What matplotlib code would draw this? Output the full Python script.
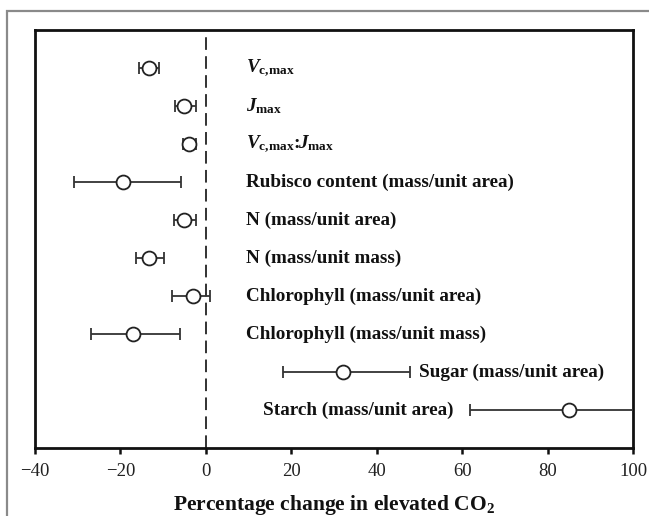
import matplotlib
matplotlib.use("Agg")
import matplotlib.pyplot as plt
from matplotlib.patches import Rectangle

plt.rcParams['font.family'] = ['Liberation Serif', 'DejaVu Serif']
plt.rcParams['mathtext.fontset'] = 'custom'
plt.rcParams['mathtext.rm'] = 'Liberation Serif:bold'
plt.rcParams['mathtext.bf'] = 'Liberation Serif:bold'
plt.rcParams['mathtext.it'] = 'Liberation Serif:bold:italic'

labels = [r'$\mathit{V}_{\mathbf{c,\!max}}$',
          r'$\mathit{J}_{\mathbf{max}}$',
          r'$\mathit{V}_{\mathbf{c,\!max}}\!\mathbf{:}\!\!\mathit{J}_{\mathbf{max}}$',
          'Rubisco content (mass/unit area)',
          'N (mass/unit area)',
          'N (mass/unit mass)',
          'Chlorophyll (mass/unit area)',
          'Chlorophyll (mass/unit mass)',
          'Sugar (mass/unit area)',
          'Starch (mass/unit area)']
means = [-13.25, -5.1, -3.9, -19.3, -5.1, -13.25, -2.95, -17.0, 32.2, 84.9]
lower = [-15.6, -7.2, -5.4, -30.8, -7.4, -16.4, -7.9, -26.9, 18.0, 61.8]
upper = [-10.9, -2.4, -2.4, -5.9, -2.3, -9.8, 1.0, -6.1, 47.8, 108.0]
label_x = [9.5, 9.5, 9.5, 9.5, 9.5, 9.5, 9.5, 9.5, 50.0, 58.0]
label_ha = ['left'] * 9 + ['right']
xticks = [-40, -20, 0, 20, 40, 60, 80, 100]
xticklabels = ['\u221240', '\u221220', '0', '20', '40', '60', '80', '100']

W, H = 649, 516
fig = plt.figure(figsize=(W / 100, H / 100), dpi=100)
fig.patches.append(Rectangle((7 / W, 0 - 0.1), 2.0, 1 - 11 / H + 0.1, transform=fig.transFigure,
                             fill=False, edgecolor='#8a8a8a', linewidth=1.6, zorder=0))
ax = fig.add_axes([35 / W, 1 - 448 / H, (633 - 35) / W, (448 - 30) / H])

ys = list(range(1, len(means) + 1))
xerr = [[m - l for m, l in zip(means, lower)], [u - m for m, u in zip(means, upper)]]
ax.errorbar(means, ys, xerr=xerr, fmt='o', color='#333333', ecolor='#333333',
            elinewidth=1.3, capsize=4.3, capthick=1.3, markersize=10,
            markerfacecolor='white', markeredgecolor='#222222', markeredgewidth=1.3,
            zorder=3, clip_on=True)
ax.axvline(0, color='#222222', linestyle=(0, (7, 3.5)), linewidth=1.3, zorder=1)

for lab, x, y, ha in zip(labels, label_x, ys, label_ha):
    ax.text(x, y, lab, ha=ha, va='center', fontsize=13.8, fontweight='bold', color='#111111')

ax.set_xlim(-40, 100)
ax.set_ylim(11, 0)
ax.set_yticks([])
ax.set_xticks(xticks)
ax.set_xticklabels(xticklabels, fontsize=13.5, color='#222222')
ax.tick_params(axis='x', direction='out', length=4, width=1.8, pad=7, color='#111111')
for s in ax.spines.values():
    s.set_linewidth(2.0)
    s.set_color('#111111')
ax.set_xlabel(r'Percentage change in elevated CO$_\mathbf{2}$', fontsize=15.5, fontweight='bold',
              labelpad=9, color='#111111')

fig.savefig('out.png', dpi=100)
